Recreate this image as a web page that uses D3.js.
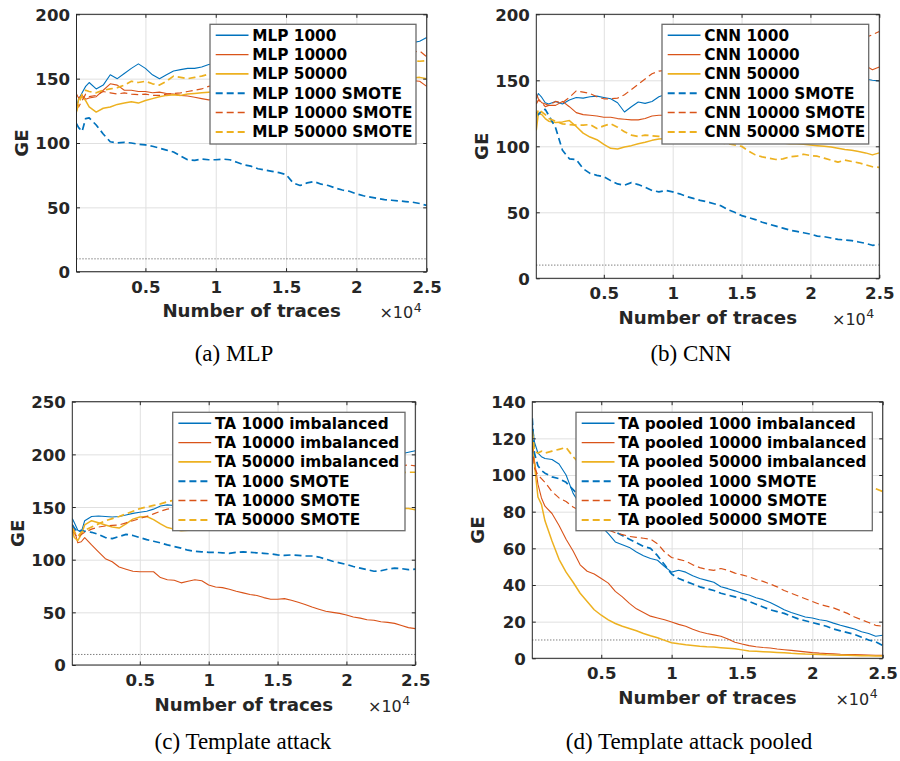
<!DOCTYPE html>
<html>
<head>
<meta charset="utf-8">
<script src="https://cdn.jsdelivr.net/npm/d3@7/dist/d3.min.js"></script>
<style>
  body { margin: 0; background: #fff; }
  svg { display: block; }
  .tick text { font-family: "DejaVu Sans", sans-serif; font-weight: bold; font-size: 16.6px; fill: #262626; }
</style>
</head>
<body>
<svg id="fig" width="900" height="761"></svg>
<script>
// Number of traces at which guessing entropy was evaluated
const traces = [100,250,500,750,1000,1500,2000,2500,3000,3500,
  4000,4500,5000,5500,6000,6500,7000,7500,8000,8500,
  9000,9500,10000,10500,11000,11500,12000,12500,13000,13500,
  14000,14500,15000,15500,16000,16500,17000,17500,18000,18500,
  19000,19500,20000,20500,21000,21500,22000,22500,23000,23500,
  24000,24500,25000];

const xTickValues = [5000, 10000, 15000, 20000, 25000];
const xTickLabels = ["0.5", "1", "1.5", "2", "2.5"];
const yTicksAB = [0, 50, 100, 150, 200];
const yTicksC = [0, 50, 100, 150, 200, 250];
const yTicksD = [0, 20, 40, 60, 80, 100, 120, 140];
const threshold = 10;

// (a) MLP
const mlpNames = ["MLP 1000", "MLP 10000", "MLP 50000", "MLP 1000 SMOTE", "MLP 10000 SMOTE", "MLP 50000 SMOTE"];
const mlp1000 = [128,134,139,144,147,142,145,153,150,154, 158,161.5,158,153,150,153,156,157,158,158, 159,161,162,163,162,164,165,164,166,167, 166,168,169,168,170,171,170,172,173,172, 173,174,175,174,175,176,176,177,178,178, 178,179,182];
const mlp10000 = [138,135,137,134,135,136,141,146,145,141, 141,140,140,139,139.5,138.5,138,137,136.5,135.5, 134.5,133.5,134,135,136,137,138,137.5,139,140, 139.5,141,142,141,142.5,143,142,143.5,144,145, 144,145.5,146,145,146.5,147,146,147.5,148,147, 148.5,148,144];
const mlp50000 = [124,134,136,133,128,124,127,128,130,131, 132,131,133,134.5,136,137,137.5,137,138,138.5, 139,139.5,140,140.5,141,141.5,142,142,143,143.5, 143,144,144.5,145,145,146,146.5,146,147,147.5, 147,148,148.5,148,149,149,149.5,150,149.5,150, 150.5,151,150];
const mlp1000Smote = [115,112,109,119,119.5,114,107,101,100,100.5, 100,99,98.5,97.5,96,94.5,93,90,87,86.5, 87.5,87,87,87.5,87,85,83,82,80,79, 78,77,75.5,69,67,69,70,68,67,65, 63.5,62.5,60.5,59,58,57,56,55.5,55,54.5, 54,53,51.5];
const mlp10000Smote = [130,128,133,138,136,137,140,139,138,139, 138,137.5,138,137,137,138,138.5,139,140,141, 142,144,145,146.5,146,148,149.5,149,151,152.5, 152,153.5,155,154.5,156,157,156.5,158,159.5,159, 160.5,162,161.5,163,164.5,164,165.5,167,166.5,169, 170.5,171.5,167];
const mlp50000Smote = [125,130,138,141,140,139,141,142,143,145, 148,147,148,146,145,148,152,151,150,151, 152,153.5,154,155,154.5,156,156.5,157,156,157.5, 158,158.5,158,159,159.5,160,159.5,160.5,161,160.5, 161.5,162,162,162.5,163,162.5,163,163.5,163,164, 164,163.5,164];

// (b) CNN
const cnnNames = ["CNN 1000", "CNN 10000", "CNN 50000", "CNN 1000 SMOTE", "CNN 10000 SMOTE", "CNN 50000 SMOTE"];
const cnn1000 = [136,140,137,133,132,134,132,135,137,136.5, 137.5,138,137,136,133,126,130,133.5,132.5,134, 137.5,139.5,140,141,140.5,142,141.5,143,142.5,144, 143.5,144.5,145,144.5,146,145.5,146.5,147,146.5,147.5, 148,147.5,148.5,148,149,149.5,149,150,150.5,151, 151,150,149.5];
const cnn10000 = [140,136,133,132,131,131,134,130,125.5,124, 123.5,123,122,122,121,120.5,120,120,121,123, 123.5,123.5,124,125,126,127,128.5,130,131,132.5, 134,135,136.5,138,139,140.5,142,143,144.5,146, 147,148.5,150,151,152.5,154,155,156.5,158,159.5, 161,158,160];
const cnn50000 = [112,125,124,121,119,118,118.5,119.5,115,110, 107,105,101.5,98.5,98,99.5,100.5,102,103,104.5, 105.5,106,106.5,107,106.5,107,106,106.5,106,105.5, 105,105,104.5,104,104,103.5,103,103,102.5,102, 102,101.5,101,100.5,100,99.5,98.5,97.5,97,96, 95,93.5,95];
const cnn1000Smote = [126,124,127,128,123.5,114,97,90.5,90,83, 79.5,78,77,74,71.5,70.5,72.5,71,69,66.5, 65.5,66.5,65.5,64,62,60.5,59,58,56.5,55, 52,50,47.5,46,44.5,42.5,41,39.5,38,36.5, 35.5,34.5,33.5,32,31.5,30.5,29.5,29,28.5,27.5, 26.5,25,25.5];
const cnn10000Smote = [132,135,133,130,131,134,133,137,142,141, 140,137.5,136,136,136.5,139,143,147,151,155, 157,157.5,158,159,159.5,160.5,161,162,163,163.5, 164.5,165,166,167,167.5,168.5,169.5,170,171,172, 172.5,173.5,174.5,175,176,177,178,179,180,181, 182.5,184.5,187];
const cnn50000Smote = [122,128,126,124,121,119,117,116.5,116,116, 116.5,113.5,115.5,117,114.5,111,108.5,107.5,108.5,108, 107.5,107,106.5,106,105.5,105,104.5,104,103.5,102.5, 102,101,100,96.5,93.5,92,91,90,90.5,92, 92.5,94,93,92.5,91,89.5,88,89.5,88.5,87.5, 86,84.5,84];

// (c) Template attack
const taNames = ["TA 1000 imbalanced", "TA 10000 imbalanced", "TA 50000 imbalanced", "TA 1000 SMOTE", "TA 10000 SMOTE", "TA 50000 SMOTE"];
const ta1000 = [139,135,128,126,137,141,141.5,141,140.5,141, 142.5,144,145,146,148,151,152,151.5,153,155, 156.5,158,159.5,161,163,164.5,166,168,169.5,171, 173,174.5,176,177.5,179,180.5,182,183.5,185,186.5, 188,189.5,191,192,193.5,195,196,197.5,198.5,199.5, 200.5,202,203.5];
const ta10000 = [134,128,116,117,121,114,107.5,101,98,93, 91,89,88.5,88.5,88.5,83,81,80.5,78,79.5, 81,80,76,74,73.5,72,70,68.5,67,66, 64,62.5,62.5,63,61.5,59.5,57.5,55,53,51, 50,49,47.5,45.5,44.5,43,42.5,41,40.5,39.5, 37.5,35.5,34.5];
const ta50000 = [127,121,118,124,133,137,135,133,131,130, 134,138.5,140.5,141,138,134,130.5,129,127.5,128, 130,131,132,132.5,133.5,134,135,135.5,136.5,137, 138,138.5,139.5,140,141,141.5,142,142.5,143.5,144, 144.5,145,145.5,146,146.5,147,147,147.5,148,148, 148.5,148.5,147.5];
const ta1000Smote = [133,130,126,128,127,126,124,121,120,122, 124,123,121,119,117.5,116,114,112.5,111,109, 108,107.5,107,107,106.5,106,107,107.5,107,106.5, 106,105.5,104.5,104,104.5,104,103.5,103.5,102.5,100.5, 98.5,97,95.5,93.5,92,90.5,89,89.5,91,92, 91.5,90.5,91];
const ta10000Smote = [128,125,121,124,126,129,131,132,132.5,133, 135,137,139,141,143.5,146,148,149,150.5,152, 153.5,155,156.5,158,159,160.5,162,163,164.5,166, 167,168.5,170,171,172,173.5,174.5,176,177,178, 179.5,180.5,181.5,182.5,183.5,184.5,185.5,186,187,188, 189,190,189];
const ta50000Smote = [130,126,122,126,128,131,134,137,139,141, 143.5,146,148.5,150,151.5,153,155,156.5,158,159.5, 161,162,163.5,164.5,165.5,166.5,167.5,168.5,169.5,170.5, 171,172,173,173.5,174.5,175,176,176.5,177,177.5, 178,178.5,179,179.5,180,180.5,181,181.5,182,182, 182.5,183,183];

// (d) Template attack pooled
const tapNames = ["TA pooled 1000 imbalanced", "TA pooled 10000 imbalanced", "TA pooled 50000 imbalanced", "TA pooled 1000 SMOTE", "TA pooled 10000 SMOTE", "TA pooled 50000 SMOTE"];
const tap1000 = [128,118,112,110,109,108.5,106,100,90,84, 79.5,75.5,72,68,63.5,62,60.5,58,56,54.5, 53.5,50,47,48,47,45,43.5,42.5,41.5,39, 38,36.8,35.5,34.5,33,32,30.5,28.5,26.5,25, 23.8,22.5,22,21,20.5,19.2,18,17,16,14.5, 13.5,12,12.6];
const tap10000 = [118,108,95,87.5,83,79,72.5,65,58.5,51, 47.5,46,43.5,41,36.5,33.5,30,27,25,23, 22,21,19.8,18.5,17.5,15.8,14.5,13.5,12.8,12, 10.5,8.8,7.8,6.9,6.3,5.9,5.6,5.1,4.7,4.3, 3.9,3.5,3.1,2.8,2.6,2.4,2.2,2.1,2,1.9, 1.8,1.7,1.6];
const tap50000 = [120,106,88,84,75,64,54,47,41.5,35.5, 31,26.5,23.5,21,19,17.5,16.3,15,13.5,12.3, 11.2,9.8,8.5,7.9,7.4,7,6.6,6.3,6.1,5.8, 5.5,5.2,4.6,4,3.8,3.6,3.4,3.2,3,2.7, 2.5,2.3,2.2,2.1,1.9,1.8,1.7,1.6,1.5,1.4, 1.4,1.3,1.3];
const tap1000Smote = [131,112,105,102.5,101,99,98,96,92,88, 83,79,75,72,69,67,65,63,61,60, 56,51,46,43.5,42,40.5,39,38,37,35.5, 34.5,33.5,32.5,31,29.5,28,26.5,25.5,24.5,23, 21.5,20.5,19.5,18.5,17.5,16,15,14,13,11.5, 10,9,7];
const tap10000Smote = [116,104,100,98,96,91,87.5,85.5,82.5,80.5, 78,75,72.5,70,68.5,67.5,66.5,66,65.5,65, 62.5,58,55,54,53,51,49.5,48.5,48,49, 48,46.5,45.5,44.5,43,42,40.5,39,37,35.5, 34,32.5,31,29.5,28.5,27.5,26,24.5,22.5,21, 19.5,18,17.5];
const tap50000Smote = [124,113,112,113,112,113,114,115,110,106, 104,103,102,101.5,101,100.5,100,99.5,99.5,99, 98.5,98,98,97.5,97,97,96.5,96,96,95.5, 95.5,95,95,94.5,94.5,94,94,93.5,93.5,93, 93,93,92.5,92.5,92.5,92,92,92,92,92, 92,92.5,91];

// Line styles in series order: imbalanced (solid) then SMOTE (dashed)
const colors = ["#0072BD", "#D95319", "#EDB120", "#0072BD", "#D95319", "#EDB120"];
const dashes = [null, null, null, "7,4", "7,4", "7,4"];
const widths = [1.1, 1.1, 1.5, 1.7, 1.2, 1.7];

const FONT = '"DejaVu Sans", sans-serif';

const panels = [
  { names: mlpNames, series: [mlp1000, mlp10000, mlp50000, mlp1000Smote, mlp10000Smote, mlp50000Smote],
    yMax: 200, yTicks: yTicksAB, plot: [76.5, 14.3, 426.7, 271.7], legend: [210, 24.3, 416, 144],
    caption: "(a) MLP", cap: [234, 361] },
  { names: cnnNames, series: [cnn1000, cnn10000, cnn50000, cnn1000Smote, cnn10000Smote, cnn50000Smote],
    yMax: 200, yTicks: yTicksAB, plot: [536.3, 14.3, 879.3, 278.3], legend: [662, 24.3, 868.7, 144],
    caption: "(b) CNN", cap: [691, 361] },
  { names: taNames, series: [ta1000, ta10000, ta50000, ta1000Smote, ta10000Smote, ta50000Smote],
    yMax: 250, yTicks: yTicksC, plot: [72.3, 401.7, 415.3, 665], legend: [172.7, 412.3, 405, 530.7],
    caption: "(c) Template attack", cap: [243, 749] },
  { names: tapNames, series: [tap1000, tap10000, tap50000, tap1000Smote, tap10000Smote, tap50000Smote],
    yMax: 140, yTicks: yTicksD, plot: [532.3, 401.7, 882.7, 658.3], legend: [576, 412.3, 872.3, 530.7],
    caption: "(d) Template attack pooled", cap: [689, 749] }
];

const svg = d3.select("#fig");
const defs = svg.append("defs");

panels.forEach((p, k) => {
  const [l, t, r, b] = p.plot;
  const x = d3.scaleLinear().domain([traces[0], traces[traces.length - 1]]).range([l, r]);
  const y = d3.scaleLinear().domain([0, p.yMax]).range([b, t]);
  const g = svg.append("g");

  // grid lines
  g.append("g").attr("transform", `translate(0,${b})`)
    .call(d3.axisBottom(x).tickValues(xTickValues).tickSize(-(b - t)).tickFormat(""))
    .call(a => a.select(".domain").remove())
    .selectAll("line").attr("stroke", "#e0e0e0");
  g.append("g").attr("transform", `translate(${l},0)`)
    .call(d3.axisLeft(y).tickValues(p.yTicks).tickSize(-(r - l)).tickFormat(""))
    .call(a => a.select(".domain").remove())
    .selectAll("line").attr("stroke", "#e0e0e0");

  const clipId = "plotclip" + k;
  defs.append("clipPath").attr("id", clipId)
    .append("rect").attr("x", l).attr("y", t).attr("width", r - l).attr("height", b - t);

  // GE = 10 reference line
  g.append("line")
    .attr("x1", l).attr("x2", r).attr("y1", y(threshold)).attr("y2", y(threshold))
    .attr("stroke", "#333").attr("stroke-width", 0.9).attr("stroke-dasharray", "1,2");

  // curves
  const line = d3.line().x((d, i) => x(traces[i])).y(d => y(d));
  p.series.forEach((s, i) => {
    g.append("path")
      .attr("clip-path", `url(#${clipId})`)
      .attr("d", line(s))
      .attr("fill", "none")
      .attr("stroke", colors[i])
      .attr("stroke-width", widths[i])
      .attr("stroke-linejoin", "round")
      .attr("stroke-dasharray", dashes[i]);
  });

  // axes with inward ticks on all four sides
  const tk = 3.5;
  const xb = g.append("g").attr("transform", `translate(0,${b})`)
    .call(d3.axisBottom(x).tickValues(xTickValues).tickFormat((d, i) => xTickLabels[i]).tickSizeInner(-tk).tickSizeOuter(0));
  xb.select(".domain").remove();
  xb.selectAll("text").attr("y", 21).attr("dy", 0);
  const xt = g.append("g").attr("transform", `translate(0,${t})`)
    .call(d3.axisTop(x).tickValues(xTickValues).tickFormat("").tickSizeInner(-tk).tickSizeOuter(0));
  xt.select(".domain").remove();
  const yl = g.append("g").attr("transform", `translate(${l},0)`)
    .call(d3.axisLeft(y).tickValues(p.yTicks).tickSizeInner(-tk).tickSizeOuter(0).tickPadding(6.5));
  yl.select(".domain").remove();
  yl.selectAll("text").attr("dy", "0.36em");
  const yr = g.append("g").attr("transform", `translate(${r},0)`)
    .call(d3.axisRight(y).tickValues(p.yTicks).tickFormat("").tickSizeInner(-tk).tickSizeOuter(0));
  yr.select(".domain").remove();
  g.selectAll(".tick line").filter(function () { return !this.getAttribute("stroke") || this.getAttribute("stroke") === "currentColor"; })
    .attr("stroke", "#262626");

  g.append("rect").attr("x", l).attr("y", t).attr("width", r - l).attr("height", b - t)
    .attr("fill", "none").attr("stroke", "#262626").attr("stroke-width", 1);

  // axis labels
  g.append("text").attr("x", (l + r) / 2).attr("y", b + 45.6)
    .attr("text-anchor", "middle").attr("font-family", FONT).attr("font-weight", "bold")
    .attr("font-size", 18.2).attr("fill", "#262626").text("Number of traces");
  g.append("text").attr("transform", `translate(${l - 48.5},${(t + b) / 2}) rotate(-90)`)
    .attr("text-anchor", "middle").attr("font-family", FONT).attr("font-weight", "bold")
    .attr("font-size", 18.2).attr("fill", "#262626").text("GE");
  g.append("text").attr("x", r - 13.5).attr("y", b + 46.6)
    .attr("text-anchor", "end").attr("font-family", FONT)
    .attr("font-size", 16).attr("fill", "#262626").text("\u00d710");
  g.append("text").attr("x", r - 13).attr("y", b + 40)
    .attr("font-family", FONT).attr("font-size", 12.5).attr("fill", "#262626").text("4");

  // legend
  const [lx0, ly0, lx1, ly1] = p.legend;
  const lg = g.append("g");
  lg.append("rect").attr("x", lx0).attr("y", ly0).attr("width", lx1 - lx0).attr("height", ly1 - ly0)
    .attr("fill", "#fff").attr("stroke", "#6b6b6b").attr("stroke-width", 1.3);
  p.names.forEach((nm, i) => {
    const cy = ly0 + 11 + i * 19.33;
    lg.append("line").attr("x1", lx0 + 5.7).attr("x2", lx0 + 38.5).attr("y1", cy).attr("y2", cy)
      .attr("stroke", colors[i]).attr("stroke-width", widths[i] + 0.3).attr("stroke-dasharray", dashes[i]);
    lg.append("text").attr("x", lx0 + 42.3).attr("y", cy).attr("dy", "0.36em")
      .attr("font-family", FONT).attr("font-weight", "bold").attr("font-size", 15.3)
      .attr("fill", "#000").text(nm);
  });

  // subfigure caption
  svg.append("text").attr("x", p.cap[0]).attr("y", p.cap[1])
    .attr("text-anchor", "middle").attr("font-family", '"Liberation Serif", serif')
    .attr("font-size", 23).attr("fill", "#000").text(p.caption);
});
</script>
</body>
</html>
